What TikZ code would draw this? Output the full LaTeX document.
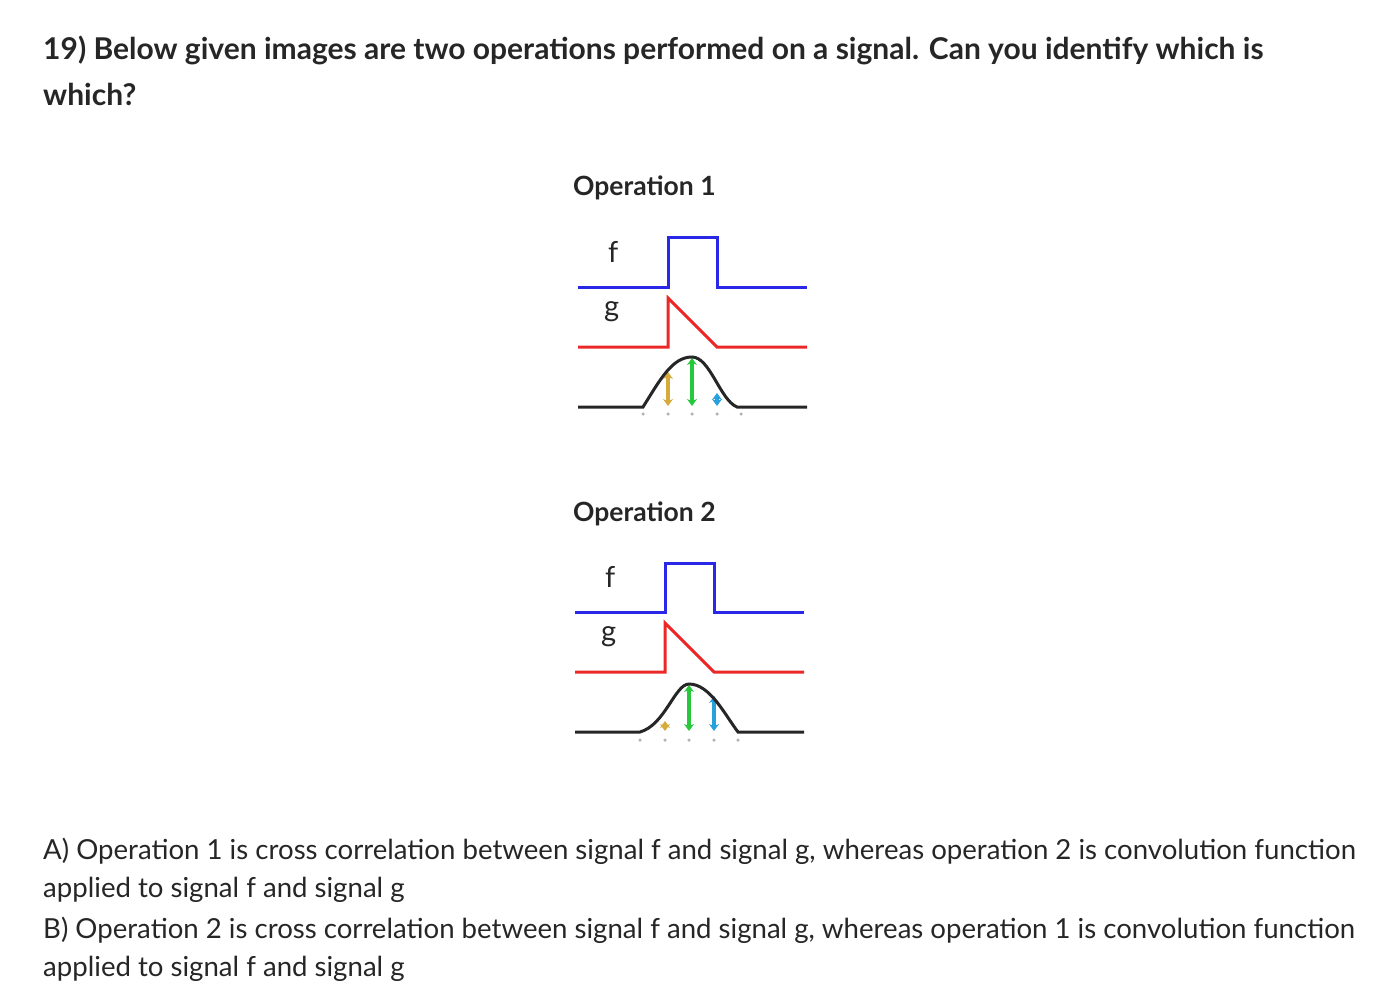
\documentclass[tikz,border=0pt]{standalone}
\usepackage{fontspec}
\setmainfont{Lato}
\usetikzlibrary{arrows.meta}
\definecolor{fblue}{RGB}{40,40,230}
\definecolor{gred}{RGB}{235,40,40}
\definecolor{cgold}{RGB}{215,170,60}
\definecolor{cgreen}{RGB}{40,200,60}
\definecolor{cblue}{RGB}{40,160,220}
\begin{document}
\begin{tikzpicture}[x=1pt,y=-1pt,
  txt/.style={anchor=west,inner sep=0pt,text=black!85},
  ttl/.style={txt,font=\fontsize{30}{34}\selectfont\bfseries},
  body/.style={txt,font=\fontsize{27.6}{32}\selectfont},
  oplab/.style={txt,font=\fontsize{26.5}{30}\selectfont\bfseries},
  sig/.style={line width=3pt},
  arr/.style={line width=3.5pt,{Stealth[length=7pt,width=10pt]}-{Stealth[length=7pt,width=10pt]}},
  dotm/.style={circle,fill=gray!60,inner sep=0pt,minimum size=3.5pt}]
\useasboundingbox (0,0) rectangle (1400,1001);
\node[ttl] (t1) at (43,50) {19) Below given images are two operations performed on a signal. Can you identify which is};
\node[ttl] (t2) at (43,94) {which?};
% Operation 1
\node[oplab] (op1) at (573,188) {Operation 1};
\node[txt,font=\fontsize{29}{30}\selectfont] (f1) at (608,252) {f};
\node[txt,font=\fontsize{29}{30}\selectfont] (g1) at (604,312) {g};
\draw[sig,fblue] (578,287) -- (668,287) -- (668,237) -- (717,237) -- (717,287) -- (807,287);
\draw[sig,gred] (578,347) -- (668,347) -- (668,298) -- (717,347) -- (807,347);
\draw[arr,cgold] (668,372) -- (668,406);
\draw[arr,cgreen] (692,358) -- (692,406);
\draw[arr,cblue] (717,393) -- (717,406);
\draw[sig,black!85] (578,407) -- (643,407) .. controls (660,380) and (672,357) .. (692,357) .. controls (710,357) and (720,400) .. (737,407) -- (807,407);
\foreach \x in {643,668,692,717,741} \node[dotm] at (\x,414) {};
% Operation 2
\node[oplab] (op2) at (573,514) {Operation 2};
\node[txt,font=\fontsize{29}{30}\selectfont] (f2) at (605,577) {f};
\node[txt,font=\fontsize{29}{30}\selectfont] (g2) at (601,637) {g};
\draw[sig,fblue] (575,612) -- (665,612) -- (665,563) -- (714,563) -- (714,612) -- (804,612);
\draw[sig,gred] (575,672) -- (665,672) -- (665,623) -- (714,672) -- (804,672);
\draw[arr,cgold] (665,721) -- (665,731);
\draw[arr,cgreen] (689,685) -- (689,731);
\draw[arr,cblue] (714,696) -- (714,731);
\draw[sig,black!85] (575,732) -- (640,732) .. controls (665,725) and (675,684) .. (689,684) .. controls (710,684) and (725,715) .. (738,732) -- (804,732);
\foreach \x in {640,665,689,714,738} \node[dotm] at (\x,740) {};
% Answers
\node[body] (a1) at (43,851) {A) Operation 1 is cross correlation between signal f and signal g, whereas operation 2 is convolution function};
\node[body] (a2) at (43,890) {applied to signal f and signal g};
\node[body] (b1) at (43,930) {B) Operation 2 is cross correlation between signal f and signal g, whereas operation 1 is convolution function};
\node[body] (b2) at (43,969) {applied to signal f and signal g};
\end{tikzpicture}
\end{document}
